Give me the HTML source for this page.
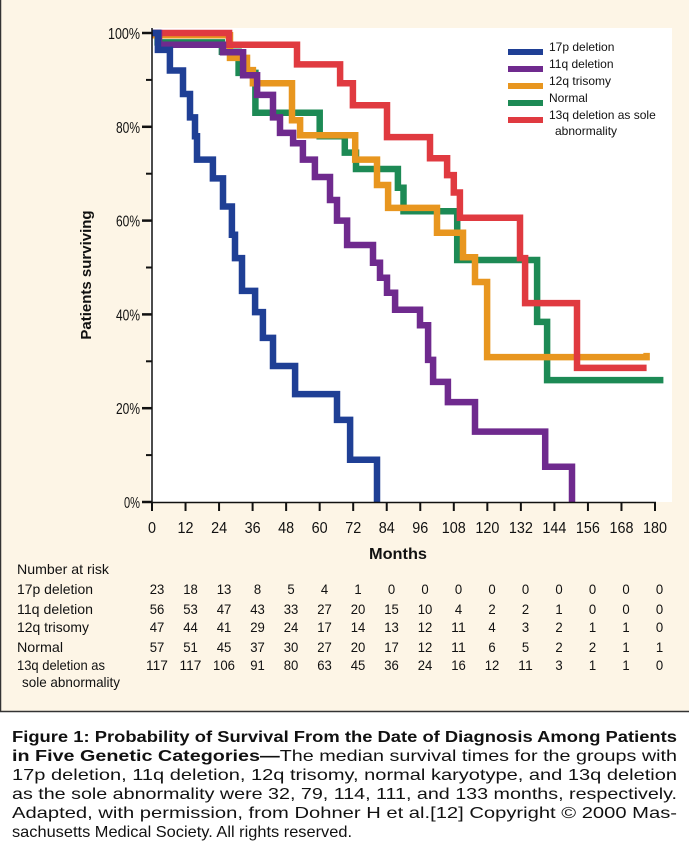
<!DOCTYPE html>
<html><head><meta charset="utf-8"><style>
html,body{margin:0;padding:0;background:#fff}
svg{display:block}
text{font-family:"Liberation Sans",Arial,sans-serif}
</style></head><body>
<svg id="chart" width="689" height="854" viewBox="0 0 689 854" xmlns="http://www.w3.org/2000/svg">
<rect x="0" y="0" width="689" height="712" fill="#fdf5e6"/>
<line x1="0.5" y1="0" x2="0.5" y2="712" stroke="#333" stroke-width="1.5"/>
<line x1="0" y1="711.5" x2="689" y2="711.5" stroke="#333" stroke-width="1.5"/>
<rect x="150" y="28" width="522" height="474" fill="#ffffff"/>
<g id="series"></g>
<g id="axes"></g>
<text x="0" y="0" transform="translate(91,275) rotate(-90)" text-anchor="middle" font-size="15" font-weight="bold" fill="#111">Patients surviving</text>
<text x="398" y="559" text-anchor="middle" font-size="16" font-weight="bold" fill="#111" textLength="58" lengthAdjust="spacingAndGlyphs">Months</text>
<g id="legend"></g>
<g id="risk">
<text x="17" y="574" font-size="14" fill="#111" textLength="92" lengthAdjust="spacingAndGlyphs">Number at risk</text>
</g>
<g font-size="16" fill="#111">
<text x="12" y="742" textLength="665" lengthAdjust="spacingAndGlyphs" font-weight="bold">Figure 1: Probability of Survival From the Date of Diagnosis Among Patients</text>
<text x="12" y="761" textLength="665" lengthAdjust="spacingAndGlyphs"><tspan font-weight="bold">in Five Genetic Categories—</tspan>The median survival times for the groups with</text>
<text x="12" y="780" textLength="665" lengthAdjust="spacingAndGlyphs">17p deletion, 11q deletion, 12q trisomy, normal karyotype, and 13q deletion</text>
<text x="12" y="799" textLength="665" lengthAdjust="spacingAndGlyphs">as the sole abnormality were 32, 79, 114, 111, and 133 months, respectively.</text>
<text x="12" y="818" textLength="665" lengthAdjust="spacingAndGlyphs">Adapted, with permission, from Dohner H et al.[12] Copyright © 2000 Mas-</text>
<text x="12" y="837" textLength="340" lengthAdjust="spacingAndGlyphs">sachusetts Medical Society. All rights reserved.</text>
</g>
</svg>
<script>
const NS="http://www.w3.org/2000/svg";
const xTicks=[0,12,24,36,48,60,72,84,96,108,120,132,144,156,168,180];
const yTicks=[0,20,40,60,80,100];
const seriesNames=["17p deletion","11q deletion","12q trisomy","Normal","13q deletion as sole abnormality"];
const seriesColors=["#1f3f95","#6f2a8e","#e8961f","#1d8a55","#e03a40"];
const t17p=[0,2.1,6.4,11.1,13.6,15.4,16.1,21.8,25.4,28.6,29.7,32.2,36.9,39.7,43.3,51.2,66.2,70.9,80.5];
const s17p=[100,96.4,92,87,82,78,73,69,63,57,52,45,40.5,35,29,23,17.5,9,0];
const t11q=[0,2.5,25.4,32.6,37.6,43.3,45.8,50.5,54,58.3,63.7,66.2,69.8,79.1,81.6,84.1,87,95.9,98.8,100.6,105.9,115.6,140.7,150.3];
const s11q=[100,97.5,95.9,91,86.8,82,78.7,76.5,73,69.3,64.4,60,54.8,51,47.8,44.6,41,37.7,30.3,25.6,21.3,15,7.5,0];
const t12q=[0,27.9,34,36.1,50.1,53,72.7,80.5,84.5,102,111.3,115.6,119.9,177];
const s12q=[99.5,94.7,92.1,89.3,81.4,78.2,73,67.6,62.7,57.4,52.2,46.9,30.9,31.8];
const tNorm=[0,2,25,31,37,60,69,73,88,90,109.2,137.8,141.4,183];
const sNorm=[100,98,96,91.5,83,78,74.5,71,67,62,51.6,38.4,26,26];
const t13q=[0,27.6,51.9,67.3,71.9,84.1,99.5,105.6,108,110.2,131.7,133.5,152.1,177];
const s13q=[100,97.5,93.3,89.3,84.6,77.8,73.3,69.7,66,60.6,52,42.4,28.6,28.6];
const riskRows=["17p deletion","11q deletion","12q trisomy","Normal","13q deletion as"];
const risk17p=[23,18,13,8,5,4,1,0,0,0,0,0,0,0,0,0];
const risk11q=[56,53,47,43,33,27,20,15,10,4,2,2,1,0,0,0];
const risk12q=[47,44,41,29,24,17,14,13,12,11,4,3,2,1,1,0];
const riskNorm=[57,51,45,37,30,27,20,17,12,11,6,5,2,2,1,1];
const risk13q=[117,117,106,91,80,63,45,36,24,16,12,11,3,1,1,0];

const X=m=>152+m*(503/180);
const Y=p=>502-p*4.69;
function mk(tag,attrs,parent){const e=document.createElementNS(NS,tag);for(const k in attrs)e.setAttribute(k,attrs[k]);parent.appendChild(e);return e;}

const allT=[t17p,t11q,t12q,tNorm,t13q], allS=[s17p,s11q,s12q,sNorm,s13q];
const gS=document.getElementById('series');
const order=[3,2,4,1,0];
order.forEach(i=>{
  const t=allT[i],s=allS[i];
  let d="M"+X(t[0]).toFixed(1)+","+Y(s[0]).toFixed(1);
  for(let k=1;k<t.length;k++){d+=" H"+X(t[k]).toFixed(1)+" V"+Y(s[k]).toFixed(1);}
  if(s[s.length-1]>0 && i!==2 && i!==3) d+=" H"+X(177).toFixed(1);
  const p=mk('path',{d:d,fill:"none",stroke:seriesColors[i],"stroke-width":6.5,"stroke-linejoin":"miter","stroke-linecap":"butt"},gS);
  
  
});

const gA=document.getElementById('axes');
let ax=mk('line',{x1:152,y1:28,x2:152,y2:503,stroke:"#111","stroke-width":1.5},gA);


ax=mk('line',{x1:151,y1:502.5,x2:656,y2:502.5,stroke:"#111","stroke-width":1.5},gA);


for(let p=10;p<100;p+=20){const l=mk('line',{x1:146,y1:Y(p),x2:152,y2:Y(p),stroke:"#111","stroke-width":2},gA);

}
yTicks.forEach(p=>{
  const l=mk('line',{x1:142,y1:Y(p),x2:152,y2:Y(p),stroke:"#111","stroke-width":2.5},gA);
  
  
  const lab=p+"%";
  const tx=mk('text',{x:140,y:Y(p)+6,"text-anchor":"end","font-size":16,fill:"#111",textLength:lab.length*8,lengthAdjust:"spacingAndGlyphs"},gA);
  tx.textContent=lab;
  
  
});
xTicks.forEach(m=>{
  const l=mk('line',{x1:X(m),y1:502,x2:X(m),y2:511,stroke:"#111","stroke-width":2},gA);
  
  
  const tx=mk('text',{x:X(m),y:533,"text-anchor":"middle","font-size":16,fill:"#111",textLength:String(m).length*8,lengthAdjust:"spacingAndGlyphs"},gA);
  tx.textContent=m;
  
  
});

const gL=document.getElementById('legend');
const legY=[52,69,86,103,120];
seriesNames.forEach((n,i)=>{
  const l=mk('line',{x1:508,y1:legY[i],x2:543,y2:legY[i],stroke:seriesColors[i],"stroke-width":6},gL);
  
  
  const tx=mk('text',{x:549,y:legY[i]-1,"font-size":12,fill:"#111"},gL);
  tx.textContent=(i===4)?"13q deletion as sole":n;
  
  
});
const ab=mk('text',{x:555,y:135,"font-size":12,fill:"#111"},gL);
ab.textContent="abnormality";



const gR=document.getElementById('risk');
const rowY=[594,614,632,652,670];
const rows=[risk17p,risk11q,risk12q,riskNorm,risk13q];
const labW=[76,76,72,46,88];
riskRows.forEach((n,i)=>{
  const tx=mk('text',{x:17,y:rowY[i],"font-size":14,fill:"#111",textLength:labW[i],lengthAdjust:"spacingAndGlyphs"},gR);
  tx.textContent=n;
  
  
  rows[i].forEach((v,k)=>{
    const c=mk('text',{x:157+k*33.5,y:rowY[i],"text-anchor":"middle","font-size":14,fill:"#111",textLength:String(v).length*7.3,lengthAdjust:"spacingAndGlyphs"},gR);
    c.textContent=v;
    
    
  });
});
const sl=mk('text',{x:22,y:687,"font-size":14,fill:"#111",textLength:98,lengthAdjust:"spacingAndGlyphs"},gR);
sl.textContent="sole abnormality";


</script>
</body></html>
